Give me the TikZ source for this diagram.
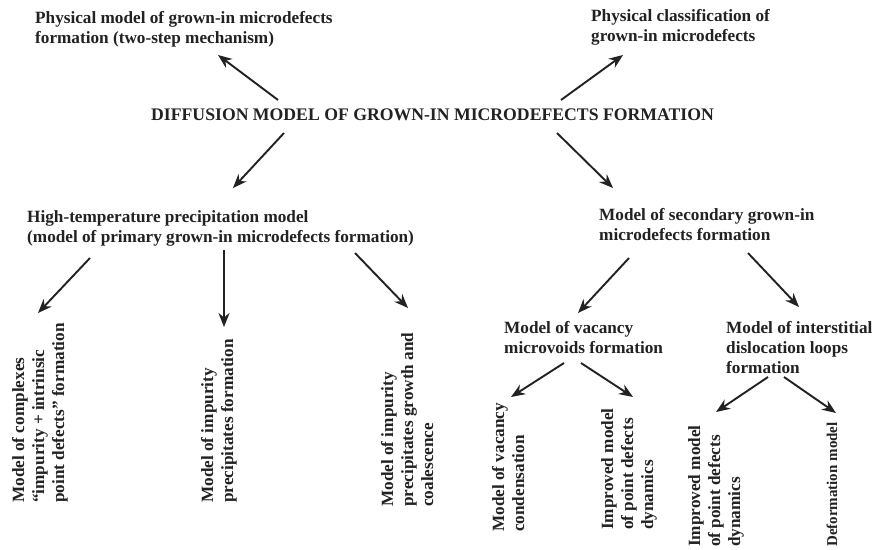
\documentclass[tikz,border=0pt]{standalone}
\usepackage{fontspec}
\setmainfont{Liberation Serif}
\usetikzlibrary{arrows.meta}
\definecolor{ink}{HTML}{222222}
\newcommand{\vlines}[1]{\begin{tabular}{@{}l@{}}#1\end{tabular}}
\begin{document}
\begin{tikzpicture}[x=1pt,y=-1pt,
  lbl/.style={inner sep=0pt, anchor=north west, align=left, text=ink,
    font=\fontsize{17.2}{20}\selectfont\bfseries},
  vlbl/.style={lbl, anchor=west, rotate=90},
  arr/.style={draw=ink, line width=1.9pt, -{Stealth[length=14pt,width=11pt]}}]
\useasboundingbox[fill=white] (0,0) rectangle (872,549);
% nodes
\node[lbl] (phys) at (35,11) {Physical model of grown-in microdefects\\formation (two-step mechanism)};
\node[lbl] (class) at (591,9) {Physical classification of\\grown-in microdefects};
\node[lbl, font=\fontsize{17.7}{20}\selectfont\bfseries] (title) at (151,109) {DIFFUSION MODEL OF GROWN-IN MICRODEFECTS FORMATION};
\node[lbl] (htp) at (27,210) {High-temperature precipitation model\\(model of primary grown-in microdefects formation)};
\node[lbl] (sec) at (599,208) {Model of secondary grown-in\\microdefects formation};
\node[lbl] (vac) at (504,321) {Model of vacancy\\microvoids formation};
\node[lbl] (inter) at (726,321) {Model of interstitial\\dislocation loops\\formation};
\node[vlbl] (cplx) at (40,503) {\vlines{Model of complexes\\“impurity + intrinsic\\point defects” formation}};
\node[vlbl] (ipf) at (219,503) {\vlines{Model of impurity\\precipitates formation}};
\node[vlbl] (ipg) at (409,507) {\vlines{Model of impurity\\precipitates growth and\\coalescence}};
\node[vlbl] (vcond) at (510,532) {\vlines{Model of vacancy\\condensation}};
\node[vlbl] (imp1) at (629,530) {\vlines{Improved model\\of point defects\\dynamics}};
\node[vlbl] (imp2) at (716,547) {\vlines{Improved model\\of point defects\\dynamics}};
\node[vlbl, font=\fontsize{15}{20}\selectfont\bfseries] (deform) at (832,547) {Deformation model};
% connector end points
\coordinate (t1) at (278,100); \coordinate (h1) at (218,55);
\coordinate (t2) at (561,100); \coordinate (h2) at (623,55);
\coordinate (t3) at (284,133); \coordinate (h3) at (233,188);
\coordinate (t4) at (557,133); \coordinate (h4) at (613,188);
\coordinate (t5) at (90,258);  \coordinate (h5) at (38,313);
\coordinate (t6) at (224,250); \coordinate (h6) at (224,327);
\coordinate (t7) at (355,253); \coordinate (h7) at (408,308);
\coordinate (t8) at (629,258); \coordinate (h8) at (578,313);
\coordinate (t9) at (748,253); \coordinate (h9) at (799,307);
\coordinate (t10) at (564,363); \coordinate (h10) at (511,397);
\coordinate (t11) at (581,363); \coordinate (h11) at (633,397);
\coordinate (t12) at (768,377); \coordinate (h12) at (716,412);
\coordinate (t13) at (784,377); \coordinate (h13) at (836,413);
% connectors
\foreach \i in {1,...,13} \draw[arr] (t\i) -- (h\i);
\end{tikzpicture}
\end{document}
